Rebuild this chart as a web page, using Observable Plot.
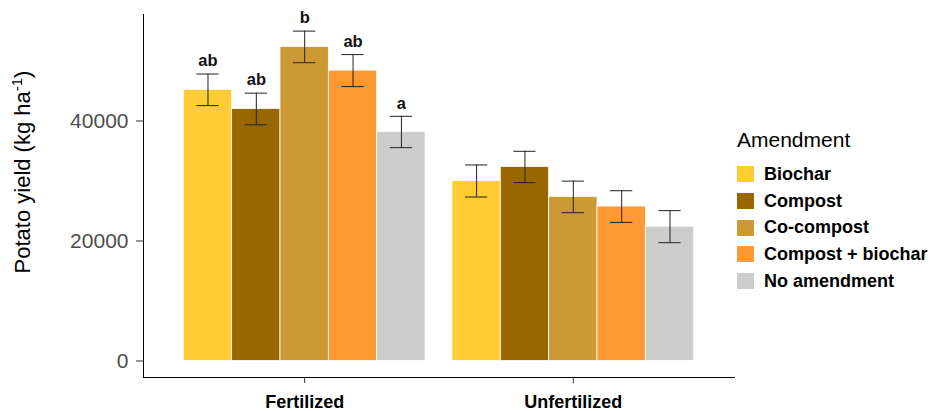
<!DOCTYPE html>
<html>
<head>
<meta charset="utf-8">
<script src="https://cdn.jsdelivr.net/npm/d3@7"></script>
<script src="https://cdn.jsdelivr.net/npm/@observablehq/plot@0.6"></script>
<style>
  body { margin: 0; background: #fff; font-family: "Liberation Sans", Arial, sans-serif; }
  #wrap { position: relative; width: 930px; height: 411px; overflow: hidden; }
  #wrap svg { position: absolute; left: 0; top: 0; }
  #wrap svg g[aria-label^="x-axis"] text { font-size: 18px; font-weight: bold; fill: #000; }
  #wrap svg g[aria-label^="y-axis"] text { font-size: 21px; fill: #4d4d4d; }
  #wrap svg g[aria-label^="x-axis"] line, #wrap svg g[aria-label^="x-axis"] path,
  #wrap svg g[aria-label^="y-axis"] line, #wrap svg g[aria-label^="y-axis"] path { stroke: #333; }
  #legend { position: absolute; left: 737px; top: 129px; }
  #legend .title { font-size: 21px; line-height: 21px; color: #000; margin-bottom: 11px; }
  #legend .row { display: flex; align-items: center; height: 26.7px; }
  #legend .key { width: 17px; height: 16px; margin-right: 10px; }
  #legend .lab { font-size: 18px; font-weight: bold; color: #000; white-space: nowrap; }
</style>
</head>
<body>
<div id="wrap"></div>
<script>
const groups = ["Fertilized", "Unfertilized"];
const amendments = ["Biochar", "Compost", "Co-compost", "Compost + biochar", "No amendment"];
const colors = ["#FFCC33", "#996600", "#CC9933", "#FF9933", "#CCCCCC"];
const fertilizedYield = [45200, 42000, 52350, 48400, 38170];
const unfertilizedYield = [30000, 32340, 27350, 25740, 22390];
const fertilizedSE = [2630, 2640, 2630, 2670, 2610];
const unfertilizedSE = [2670, 2610, 2630, 2640, 2670];
const fertilizedLetters = ["ab", "ab", "b", "ab", "a"];
const yTicks = [0, 20000, 40000];
const legendTitle = "Amendment";
const yTitle = "Potato yield (kg ha";

// ggplot-style dodge: groups at positions 1, 2; total dodge width 0.9 shared by the amendments
const dodgeWidth = 0.9;
const barWidth = dodgeWidth / amendments.length;
const capHalf = barWidth * 0.23;

const rows = [];
groups.forEach((g, gi) => {
  const ys = gi === 0 ? fertilizedYield : unfertilizedYield;
  const se = gi === 0 ? fertilizedSE : unfertilizedSE;
  amendments.forEach((a, k) => {
    const x1 = (gi + 1) - dodgeWidth / 2 + k * barWidth;
    rows.push({
      group: g, amendment: a, x1, x2: x1 + barWidth, xc: x1 + barWidth / 2,
      yield: ys[k], lo: ys[k] - se[k], hi: ys[k] + se[k],
      letter: gi === 0 ? fertilizedLetters[k] : ""
    });
  });
});
const letterRows = rows.filter(d => d.letter !== "");

const chart = Plot.plot({
  width: 930,
  height: 411,
  marginLeft: 143,
  marginRight: 196,
  marginTop: 14,
  marginBottom: 34,
  style: {fontFamily: "'Liberation Sans', Arial, sans-serif", background: "white", overflow: "visible"},
  x: {type: "linear", domain: [0.4, groups.length + 0.6], ticks: groups.map((g, i) => i + 1), tickFormat: i => groups[i - 1], label: null, tickSize: 6, tickPadding: 12, line: true},
  y: {domain: [-2750, 57750], ticks: yTicks, tickFormat: d3.format("d"), label: null, tickSize: 7, tickPadding: 8, line: true},
  color: {domain: amendments, range: colors},
  marks: [
    Plot.rectY(rows, {x1: "x1", x2: "x2", y1: 0, y2: "yield", fill: "amendment", stroke: "white", strokeWidth: 0.8}),
    Plot.ruleX(rows, {x: "xc", y1: "lo", y2: "hi", stroke: "#222", strokeWidth: 1}),
    Plot.ruleY(rows, {y: "lo", x1: d => d.xc - capHalf, x2: d => d.xc + capHalf, stroke: "#222", strokeWidth: 1}),
    Plot.ruleY(rows, {y: "hi", x1: d => d.xc - capHalf, x2: d => d.xc + capHalf, stroke: "#222", strokeWidth: 1}),
    Plot.text(letterRows, {x: "xc", y: "hi", text: "letter", dy: -13, fontSize: 16.5, fontWeight: "bold", fill: "#111"})
  ]
});

const wrap = document.getElementById("wrap");
wrap.appendChild(chart);

// y-axis title with superscript
const svg = d3.select(chart.tagName.toLowerCase() === "svg" ? chart : chart.querySelector("svg"));
const t = svg.append("text")
  .attr("transform", "translate(30,172) rotate(-90)")
  .attr("text-anchor", "middle")
  .attr("font-size", 22)
  .attr("font-family", "'Liberation Sans', Arial, sans-serif")
  .attr("fill", "#000");
t.append("tspan").text(yTitle);
t.append("tspan").attr("font-size", 15).attr("dy", -8).text("-1");
t.append("tspan").attr("dy", 8).text(")");

// legend
const legend = d3.select(wrap).append("div").attr("id", "legend");
legend.append("div").attr("class", "title").text(legendTitle);
amendments.forEach((a, i) => {
  const r = legend.append("div").attr("class", "row");
  r.append("div").attr("class", "key").style("background", colors[i]);
  r.append("div").attr("class", "lab").text(a);
});
</script>
</body>
</html>
